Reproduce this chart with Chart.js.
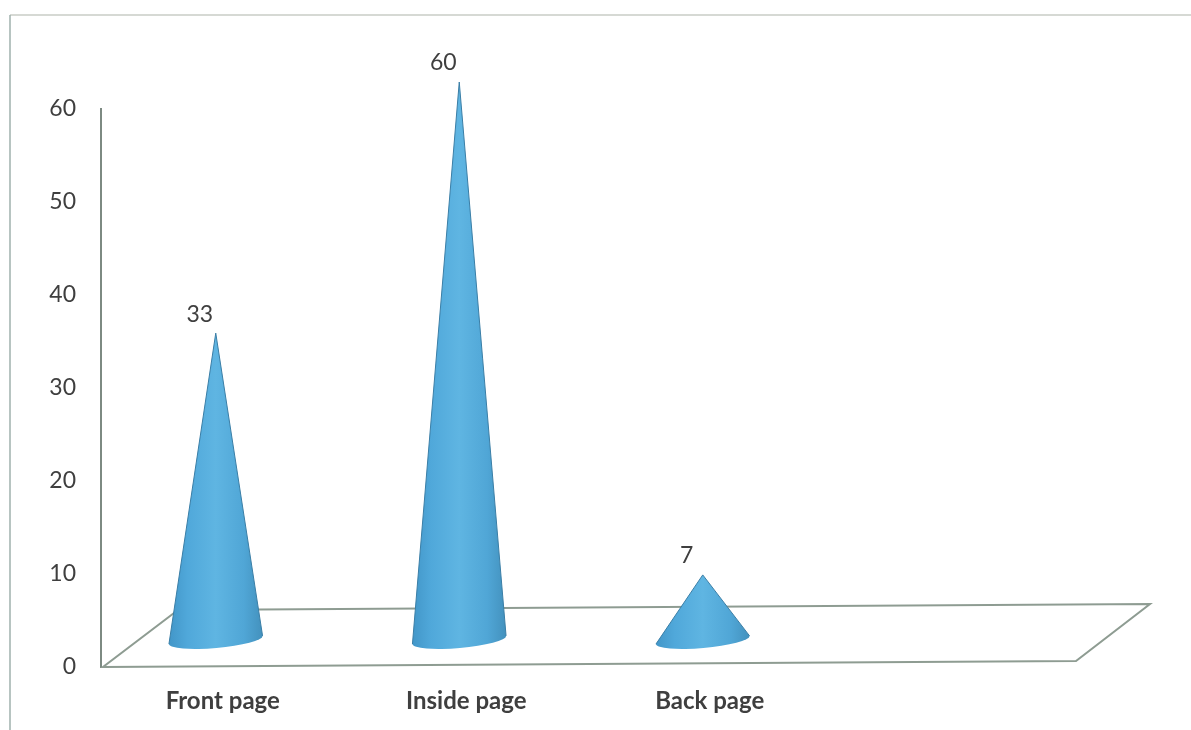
<!DOCTYPE html>
<html>
<head>
<meta charset="utf-8">
<title>Cone chart</title>
<style>
    html, body { margin: 0; padding: 0; background: #fff; }
    #wrap { position: relative; width: 1191px; height: 730px; }
</style>
<script src="https://cdn.jsdelivr.net/npm/chart.js@4"></script>
</head>
<body>
<div id="wrap"><canvas id="coneChart" width="1191" height="730"></canvas></div>
<script>
const categories = ['Front page', 'Inside page', 'Back page', ''];
const values = [33, 60, 7, null];
const yTicks = [0, 10, 20, 30, 40, 50, 60];

const FONT = 'Lato, "Open Sans", sans-serif';
const TEXT = '#3f3f3f';
const FLOOR = '#8e9c92';
const DEPTH = 27;      // how far the 3D floor lifts the cone base
const CONE_RX = 47;
const CONE_RY = 8;
const TILT = -5 * Math.PI / 180;

// Page border, floor plate
const backdrop = {
    id: 'backdrop',
    beforeDatasetsDraw(chart) {
        const { ctx, chartArea: a } = chart;
        ctx.save();
        ctx.lineWidth = 1.5;
        ctx.beginPath();
        ctx.moveTo(1191, 15);
        ctx.lineTo(10, 15);
        ctx.strokeStyle = '#c9cdc6';
        ctx.stroke();
        ctx.beginPath();
        ctx.moveTo(10, 15);
        ctx.lineTo(10, 730);
        ctx.strokeStyle = '#9fb0ac';
        ctx.stroke();

        ctx.strokeStyle = FLOOR;
        ctx.lineWidth = 2;
        ctx.beginPath();
        ctx.moveTo(a.left + 2, a.bottom);
        ctx.lineTo(a.right + 1, a.bottom - 6);
        ctx.lineTo(a.right + 75, a.bottom - 63);
        ctx.lineTo(a.left + 77, a.bottom - 57);
        ctx.closePath();
        ctx.stroke();
        ctx.restore();
    }
};

// Turns each bar element into a cone and prints the value above its tip
const cones = {
    id: 'cones',
    afterDatasetsDraw(chart) {
        const { ctx, scales } = chart;
        const base = scales.y.getPixelForValue(0) - DEPTH;
        chart.getDatasetMeta(0).data.forEach((bar, i) => {
            if (values[i] === null) return;
            const cx = bar.x - 7;
            const tip = bar.y - DEPTH;
            const dx = CONE_RX * Math.cos(TILT);
            const dy = CONE_RX * Math.sin(TILT);

            const grad = ctx.createLinearGradient(cx - CONE_RX, 0, cx + CONE_RX, 0);
            grad.addColorStop(0, '#4296c8');
            grad.addColorStop(0.2, '#50a8da');
            grad.addColorStop(0.5, '#5fb5e2');
            grad.addColorStop(0.8, '#50a6d6');
            grad.addColorStop(1, '#4391bd');

            ctx.save();
            ctx.beginPath();
            ctx.moveTo(cx, tip);
            ctx.lineTo(cx - dx, base - dy);
            ctx.ellipse(cx, base, CONE_RX, CONE_RY, TILT, Math.PI, 0, true);
            ctx.closePath();
            ctx.fillStyle = grad;
            ctx.fill();

            // darker slanted edges
            ctx.strokeStyle = '#3a7ea6';
            ctx.lineWidth = 1;
            ctx.beginPath();
            ctx.moveTo(cx - dx, base - dy);
            ctx.lineTo(cx, tip);
            ctx.lineTo(cx + dx, base + dy);
            ctx.stroke();

            ctx.fillStyle = TEXT;
            ctx.font = '23px ' + FONT;
            ctx.textAlign = 'center';
            ctx.textBaseline = 'middle';
            ctx.fillText(String(values[i]), cx - 16, tip - 19);
            ctx.restore();
        });
    }
};

new Chart(document.getElementById('coneChart'), {
    type: 'bar',
    data: {
        labels: categories,
        datasets: [{
            data: values,
            backgroundColor: 'rgba(0,0,0,0)',
            borderWidth: 0
        }]
    },
    options: {
        responsive: false,
        animation: false,
        layout: { padding: { top: 109, right: 116, left: 0, bottom: 0 } },
        plugins: { legend: { display: false }, tooltip: { enabled: false } },
        scales: {
            x: {
                grid: { display: false, drawTicks: false },
                border: { display: false },
                afterFit: s => { s.height = 63; },
                ticks: {
                    color: TEXT,
                    padding: 20,
                    maxRotation: 0,
                    font: { family: FONT, size: 24, weight: 'bold' }
                }
            },
            y: {
                min: 0,
                max: 60,
                grid: { display: false, drawTicks: false },
                border: { display: true, color: '#7d8a82', width: 2 },
                afterFit: s => { s.width = 101; },
                afterBuildTicks: s => { s.ticks = yTicks.map(v => ({ value: v })); },
                ticks: {
                    color: TEXT,
                    padding: 25,
                    font: { family: FONT, size: 23 }
                }
            }
        }
    },
    plugins: [backdrop, cones]
});
</script>
</body>
</html>
